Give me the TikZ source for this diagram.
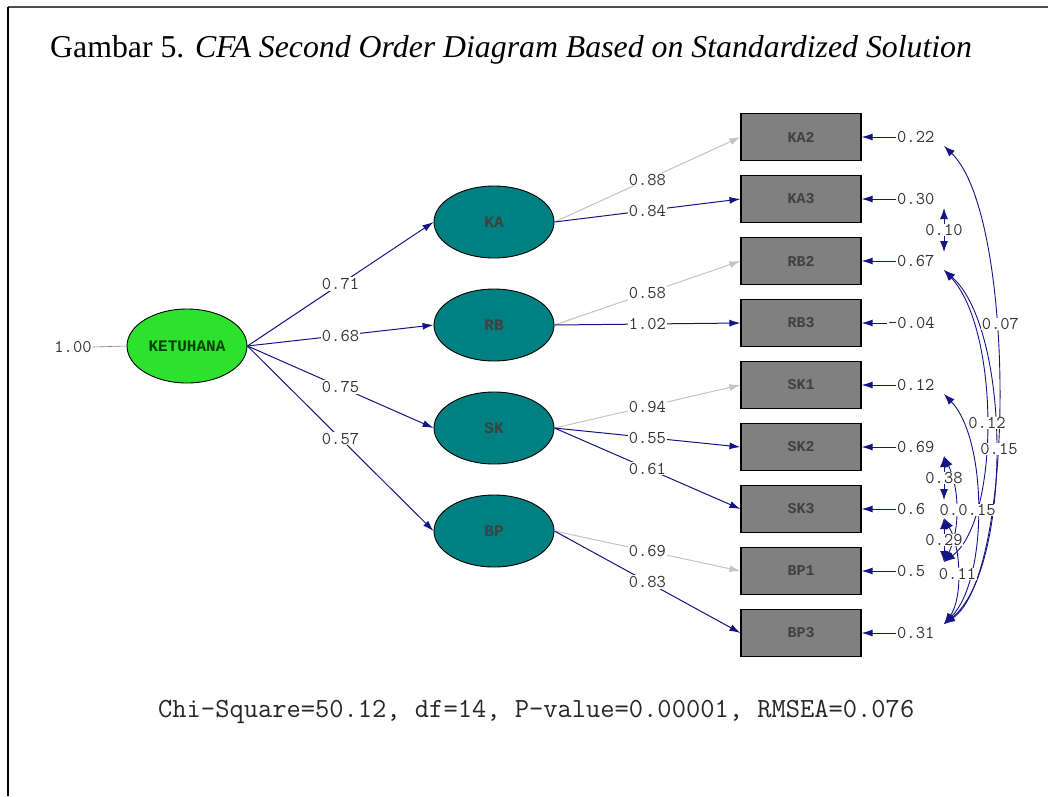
\documentclass[tikz,border=0pt]{standalone}
\usepackage{fontspec}
\setmainfont{Liberation Serif}
\newfontfamily\lis{Liberation Mono}
\usetikzlibrary{arrows.meta,shapes.geometric}
\definecolor{navy}{RGB}{20,20,135}
\definecolor{lgray}{RGB}{195,195,195}
\definecolor{boxgray}{RGB}{128,128,128}
\definecolor{tealc}{RGB}{0,128,128}
\definecolor{greenc}{RGB}{45,225,45}
\begin{document}
\begin{tikzpicture}[x=1pt,y=-1pt,
  lat/.style={ellipse, draw=black, line width=0.9pt, fill=tealc, minimum width=120pt, minimum height=72pt, inner sep=0pt, text=black!75, font=\lis\fontsize{16}{16}\selectfont\bfseries},
  obs/.style={rectangle, draw=black, line width=1.1pt, fill=boxgray, minimum width=120pt, minimum height=47pt, inner sep=0pt, text=black!75, font=\lis\fontsize{15}{15}\selectfont\bfseries},
  plab/.style={fill=white, inner sep=1pt, text=black!80, font=\ttfamily\fontsize{18}{18}\selectfont},
  elab/.style={anchor=west, inner sep=1pt, text=black!80, font=\ttfamily\fontsize{18}{18}\selectfont},
  clab/.style={fill=white, inner sep=0.5pt, text=black!80, font=\ttfamily\fontsize{18}{18}\selectfont},
  arr/.style={-{Latex[length=11pt,width=7pt]}},
  nline/.style={draw=navy, line width=1pt, arr},
  gline/.style={draw=lgray, line width=1pt, arr},
  cov/.style={draw=navy, line width=0.9pt, {Latex[length=11pt,width=8pt]}-{Latex[length=11pt,width=8pt]}}
]
\useasboundingbox (0,0) rectangle (1048,796);
\fill[white] (0,0) rectangle (1048,796);
% frame
\draw[black!70, line width=1.5pt] (1048,7) -- (8,7);
\draw[black, line width=1.5pt] (8,7) -- (8,796);
% title
\node[anchor=base west, inner sep=0pt, font=\fontsize{31.8}{34}\selectfont] (title) at (50,57)
  {Gambar 5. \textit{CFA Second Order Diagram Based on Standardized Solution}};
% second order factor
\node[lat, fill=greenc, minimum height=74pt, text=green!25!black] (ket) at (187,346) {KETUHANA};
\node[plab] (v0) at (73,347) {1.00};
\draw[gray, line width=0.6pt] (v0.east) -- (ket.west);
% first order factors
\node[lat] (ka) at (494,222) {KA};
\node[lat] (rb) at (494,325) {RB};
\node[lat] (sk) at (494,428) {SK};
\node[lat] (bp) at (494,531) {BP};
% indicators
\node[obs] (b1) at (801,137) {KA2};
\node[obs] (b2) at (801,199) {KA3};
\node[obs] (b3) at (801,261) {RB2};
\node[obs] (b4) at (801,323) {RB3};
\node[obs] (b5) at (801,385) {SK1};
\node[obs] (b6) at (801,447) {SK2};
\node[obs] (b7) at (801,509) {SK3};
\node[obs] (b8) at (801,571) {BP1};
\node[obs] (b9) at (801,633) {BP3};
% second order loadings
\draw[nline] (ket.east) -- node[plab] {0.71} (ka.west);
\draw[nline] (ket.east) -- node[plab] {0.68} (rb.west);
\draw[nline] (ket.east) -- node[plab] {0.75} (sk.west);
\draw[nline] (ket.east) -- node[plab] {0.57} (bp.west);
% first order loadings
\draw[gline] (ka.east) -- node[plab] {0.88} (b1.west);
\draw[nline] (ka.east) -- node[plab] {0.84} (b2.west);
\draw[gline] (rb.east) -- node[plab] {0.58} (b3.west);
\draw[nline] (rb.east) -- node[plab] {1.02} (b4.west);
\draw[gline] (sk.east) -- node[plab] {0.94} (b5.west);
\draw[nline] (sk.east) -- node[plab] {0.55} (b6.west);
\draw[nline] (sk.east) -- node[plab] {0.61} (b7.west);
\draw[gline] (bp.east) -- node[plab] {0.69} (b8.west);
\draw[nline] (bp.east) -- node[plab] {0.83} (b9.west);
% error variances
\node[elab] (e1) at (896,137) {0.22};
\node[elab] (e2) at (896,199) {0.30};
\node[elab] (e3) at (896,261) {0.67};
\node[elab] (e4) at (887,323) {-0.04};
\node[elab] (e5) at (896,385) {0.12};
\node[elab] (e6) at (896,447) {0.69};
\node[elab] (e7) at (896,509) {0.6};
\node[elab] (e8) at (896,571) {0.5};
\node[elab] (e9) at (896,633) {0.31};
\foreach \i in {1,...,9} {\draw[nline] (e\i.west) -- (b\i.east);}
% covariance end points
\coordinate (l1) at (944,146);
\coordinate (l2) at (944,208);
\coordinate (u3) at (944,252);
\coordinate (l3) at (944,270);
\coordinate (l5) at (944,394);
\coordinate (l6) at (944,456);
\coordinate (u7) at (944,500);
\coordinate (l7) at (944,518);
\coordinate (u8) at (944,562);
\coordinate (u9) at (944,624);
% error covariances
\draw[cov] (l1) .. controls (1016,215) and (1016,575) .. (u9) coordinate[pos=0.39] (m1);
\draw[cov] (l2) -- (u3) coordinate[midway] (m2);
\draw[cov] (l3) .. controls (1012,330) and (1012,570) .. (u9) coordinate[pos=0.5] (m3);
\draw[cov] (l3) .. controls (1000,330) and (1000,520) .. (u8) coordinate[pos=0.5] (m4);
\draw[cov] (l5) .. controls (988,440) and (988,580) .. (u9) coordinate[pos=0.5] (m5);
\draw[cov] (l6) .. controls (960,490) and (960,530) .. (u8) coordinate[pos=0.5] (m6);
\draw[cov] (l6) -- (u7) coordinate[midway] (m7);
\draw[cov] (l7) -- (u8) coordinate[midway] (m8);
\draw[cov] (l7) .. controls (962,550) and (962,600) .. (u9) coordinate[pos=0.5] (m9);
% covariance labels
\node[clab] at ([xshift=5pt]m1) {0.07};
\node[clab] at (m2) {0.10};
\node[clab, anchor=west] at ([xshift=-17pt]m6) {0.};
\node[clab] at ([xshift=4pt]m3) {0.15};
\node[clab] at ([xshift=1pt]m4) {0.12};
\node[clab] at (m5) {0.15};
\node[clab] at (m7) {0.38};
\node[clab] at (m8) {0.29};
\node[clab] at (m9) {0.11};
% fit statistics
\node[anchor=base west, inner sep=0pt, text=black!85, font=\ttfamily\fontsize{27.7}{28}\selectfont] (fit) at (158,717)
  {Chi-Square=50.12, df=14, P-value=0.00001, RMSEA=0.076};
\end{tikzpicture}
\end{document}
